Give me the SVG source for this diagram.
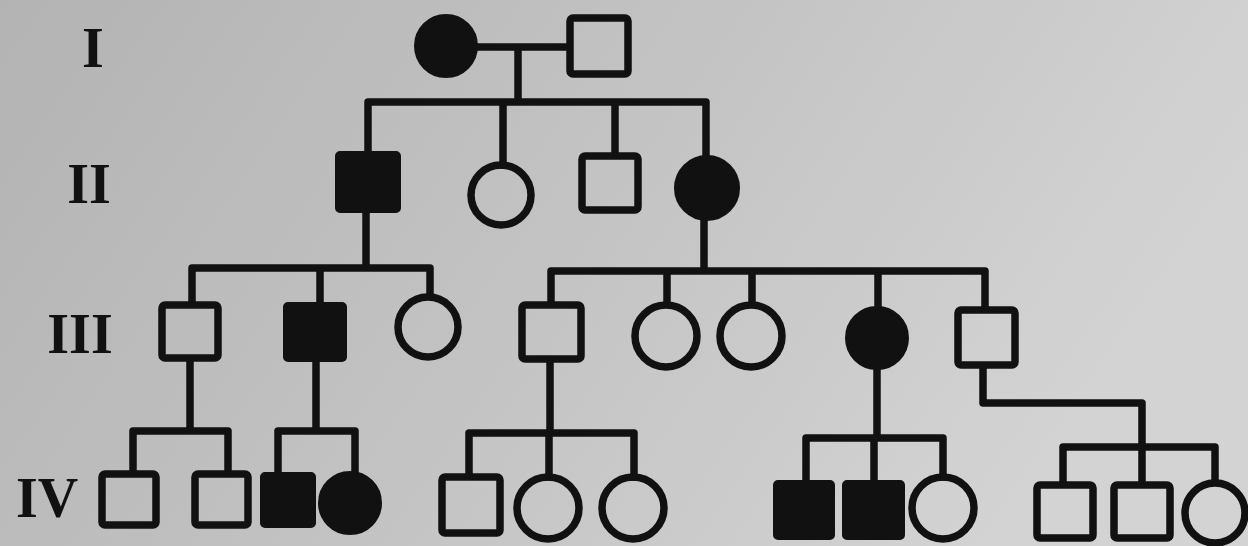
<svg xmlns="http://www.w3.org/2000/svg" width="1248" height="546" viewBox="0 0 1248 546">
<defs>
<linearGradient id="bg" x1="0" y1="0" x2="1" y2="0.3">
<stop offset="0" stop-color="#b3b3b3"/>
<stop offset="0.5" stop-color="#c2c2c2"/>
<stop offset="1" stop-color="#d3d3d3"/>
</linearGradient>
<style>
.ln{fill:none;stroke:#111;stroke-width:7.5;stroke-linejoin:round;stroke-linecap:square}
.o{fill:none;stroke:#111;stroke-width:7.5}
.f{fill:#111;stroke:#111;stroke-width:4}
.lbl{font-family:"Liberation Serif","Times New Roman",serif;font-weight:bold;font-size:56px;fill:#111;text-anchor:middle}
</style>
</defs>
<rect width="1248" height="546" fill="url(#bg)"/>
<g id="labels">
<text class="lbl" x="93" y="67">I</text>
<text class="lbl" x="89" y="203">II</text>
<text class="lbl" x="80" y="353">III</text>
<text class="lbl" x="47" y="517">IV</text>
</g>
<g id="connectors">
<path class="ln" d="M476 47 H568 M518 47 V102 M368 153 V102 H706 V157 M503 102 V165 M615 102 V154"/>
<path class="ln" d="M366 212 V268 M192 303 V268 H430 V296 M320 268 V302"/>
<path class="ln" d="M704 218 V271 M551 303 V271 H985 V308 M667 271 V303 M752 271 V303 M878 271 V307"/>
<path class="ln" d="M190 360 V431 M133 472 V431 H228 V472 M316 362 V431 M278 472 V431 H355 V472"/>
<path class="ln" d="M550 360 V433 M469 475 V433 H634 V477 M549 433 V477"/>
<path class="ln" d="M877 368 V438 M806 480 V438 H943 V477 M874 438 V480"/>
<path class="ln" d="M983 367 V403 H1142 V447 M1063 483 V447 H1215 V482 M1142 447 V483"/>
</g>
<g id="I-1"><circle class="f" cx="446" cy="46" r="30"/></g>
<g id="I-2"><rect class="o" x="570" y="18" width="58" height="56" rx="3"/></g>
<g id="II-1"><rect class="f" x="337" y="153" width="62" height="58" rx="3"/></g>
<g id="II-2"><circle class="o" cx="501" cy="195" r="30"/></g>
<g id="II-3"><rect class="o" x="582" y="156" width="56" height="54" rx="3"/></g>
<g id="II-4"><circle class="f" cx="707" cy="188" r="31"/></g>
<g id="III-1"><rect class="o" x="162" y="305" width="56" height="53" rx="3"/></g>
<g id="III-2"><rect class="f" x="285" y="304" width="60" height="56" rx="3"/></g>
<g id="III-3"><circle class="o" cx="428" cy="327" r="30"/></g>
<g id="III-4"><rect class="o" x="522" y="305" width="59" height="54" rx="3"/></g>
<g id="III-5"><circle class="o" cx="666" cy="336" r="31"/></g>
<g id="III-6"><circle class="o" cx="751" cy="336" r="31"/></g>
<g id="III-7"><circle class="f" cx="877" cy="338" r="30"/></g>
<g id="III-8"><rect class="o" x="958" y="310" width="57" height="55" rx="3"/></g>
<g id="IV-1"><rect class="o" x="102" y="474" width="54" height="51" rx="3"/></g>
<g id="IV-2"><rect class="o" x="195" y="474" width="53" height="51" rx="3"/></g>
<g id="IV-3"><rect class="f" x="262" y="474" width="52" height="52" rx="3"/></g>
<g id="IV-4"><circle class="f" cx="350" cy="503" r="30"/></g>
<g id="IV-5"><rect class="o" x="442" y="477" width="58" height="56" rx="3"/></g>
<g id="IV-6"><circle class="o" cx="548" cy="508" r="31"/></g>
<g id="IV-7"><circle class="o" cx="633" cy="508" r="31"/></g>
<g id="IV-8"><rect class="f" x="775" y="482" width="58" height="56" rx="3"/></g>
<g id="IV-9"><rect class="f" x="844" y="482" width="59" height="56" rx="3"/></g>
<g id="IV-10"><circle class="o" cx="943" cy="508" r="31"/></g>
<g id="IV-11"><rect class="o" x="1037" y="485" width="56" height="53" rx="3"/></g>
<g id="IV-12"><rect class="o" x="1114" y="485" width="56" height="53" rx="3"/></g>
<g id="IV-13"><circle class="o" cx="1215" cy="513" r="30"/></g>
</svg>
